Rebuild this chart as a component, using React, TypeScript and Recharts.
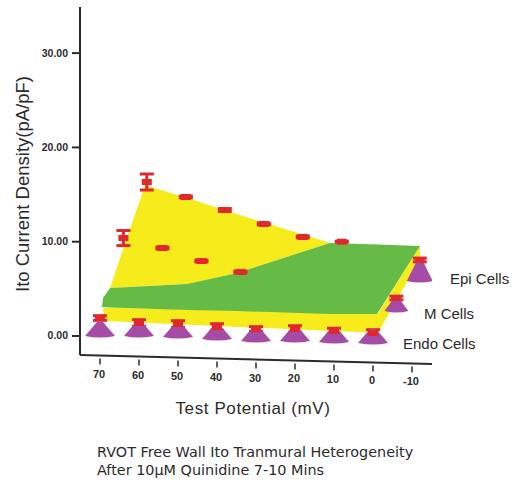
import { Area, ComposedChart, ErrorBar, ReferenceLine, Scatter, XAxis, YAxis } from 'recharts';

const potentials = [70, 60, 50, 40, 30, 20, 10, 0];
const xTicks = [70, 60, 50, 40, 30, 20, 10, 0, -10];
const yTicks = [0, 10, 20, 30];

// red markers, read per test potential (null = hidden behind the surface)
const endoMeans = [1.91, 1.38, 1.27, 0.95, 0.74, 0.74, 0.53, 0.32];
const endoErrors = [0.25, 0.35, 0.35, 0.35, 0.25, 0.35, 0.3, 0.35];
const midMeans = [10.39, 9.33, 7.95, 6.79, null, null, null, 4.03];
const midErrors = [0.8, 0.1, 0.1, 0.1, 0, 0, 0, 0.2];
const epiMeans = [16.33, 14.74, 13.36, 11.88, 10.5, 10.0, null, 8.06];
const epiErrors = [0.85, 0.1, 0.15, 0.1, 0.1, 0.05, 0, 0.2];

// cone feet
const endoConeBase = [-0.11, -0.11, -0.21, -0.42, -0.64, -0.64, -0.74, -0.85];
const midConePotential = [0];
const midConeBase = [2.55];
const epiConePotential = [0];
const epiConeBase = [5.73];

// depth shift of each row in the oblique view, in mV
const midDepth = 6;
const epiDepth = 12;

// surfaces as drawn: position on the x scale, upper and lower edge
const epiSurfaceX = [67.44, 58.46, 47.69, 34.87, 11.03];
const epiSurfaceTop = [5.09, 16.01, 14.63, 12.94, 9.86];
const epiSurfaceLow = [5.09, 5.3, 5.51, 6.68, 9.86];

const midSurfaceX = [69.49, 69.23, 67.44, 47.69, 34.87, 11.03, -1.03, -12.05];
const midSurfaceTop = [3.08, 4.03, 5.09, 5.51, 6.68, 9.86, 9.7, 9.54];
const midSurfaceLow = [3.08, 3.08, 3.03, 2.76, 2.65, 2.33, 2.33, 9.54];

const endoSurfaceX = [69.23, 68.72, -1.28, -12.05];
const endoSurfaceTop = [2.97, 3.0, 2.4, 9.54];
const endoSurfaceLow = [2.97, 1.59, 0.32, 8.17];

const WIDTH = 515;
const HEIGHT = 487;
const YELLOW = '#f6ec1c';
const GREEN = '#66bb46';
const RED = '#e0282e';
const PURPLE = '#a64ca6';
const INK = '#2b2b2b';
const AXIS_SLOPE = 9 / 352;

const zip = (xs: number[], ys: (number | null)[], errs?: number[]) =>
  xs
    .map((x, i) => ({ x, y: ys[i], err: errs ? errs[i] : 0 }))
    .filter((d) => d.y !== null);

const band = (xs: number[], top: number[], low: number[]) =>
  xs.map((x, i) => ({ x, range: [low[i], top[i]] }));

const shift = (depth: number) => potentials.map((p) => p - depth);

const Cap = (props: any) => (
  <rect x={props.cx - 5} y={props.cy - 3} width={10} height={6} fill={RED} />
);

const coneShape = (halfWidth: number, height: number) => (props: any) => {
  const { cx, cy } = props;
  const d = `M${cx - 3} ${cy - height} L${cx + 3} ${cy - height} L${cx + halfWidth} ${cy - 1} Q${cx} ${cy + 2} ${cx - halfWidth} ${cy - 1} Z`;
  return <path d={d} fill={PURPLE} />;
};

const XTick = (props: any) => {
  const { x, y, payload } = props;
  const drop = (x - 80) * AXIS_SLOPE;
  return (
    <g>
      <line x1={x} x2={x} y1={y + drop - 5} y2={y + drop + 1} stroke={INK} strokeWidth={1.5} />
      <text x={x - 1} y={y + drop + 14} textAnchor="middle" fontSize={11} fontWeight="bold" fontFamily="'Liberation Sans'" fill={INK}>
        {payload.value}
      </text>
    </g>
  );
};

const YTick = (props: any) => (
  <g>
    <line x1={72} x2={80} y1={props.y} y2={props.y} stroke={INK} strokeWidth={2} />
    <text x={68} y={props.y + 3.5} textAnchor="end" fontSize={10.5} fontWeight="bold" fontFamily="'Liberation Sans'" fill={INK}>
      {props.payload.value.toFixed(2)}
    </text>
  </g>
);

const redRow = (name: string, data: any[]) => (
  <Scatter name={name} data={data} dataKey="y" shape={Cap} isAnimationActive={false}>
    <ErrorBar dataKey="err" direction="y" width={7} stroke={RED} strokeWidth={3} isAnimationActive={false} />
  </Scatter>
);

export default function App() {
  return (
    <div style={{ position: 'absolute', left: 0, top: 0, width: WIDTH, height: HEIGHT, background: '#fff' }}>
      <ComposedChart
        width={WIDTH}
        height={HEIGHT}
        margin={{ top: 7, right: 83, bottom: 102, left: 0 }}
      >
        <XAxis
          type="number"
          dataKey="x"
          domain={[-15.13, 75.13]}
          reversed
          ticks={xTicks}
          interval={0}
          allowDataOverflow
          axisLine={false}
          tickLine={false}
          tick={XTick}
          height={30}
        />
        <YAxis
          type="number"
          domain={[-2.015, 34.89]}
          ticks={yTicks}
          interval={0}
          allowDataOverflow
          width={80}
          axisLine={{ stroke: INK, strokeWidth: 2 }}
          tickLine={false}
          tick={YTick}
        />
        <ReferenceLine
          segment={[{ x: 75.13, y: -2.015 }, { x: -15.13, y: -2.97 }]}
          stroke={INK}
          strokeWidth={2}
          ifOverflow="visible"
        />

        <Area data={band(epiSurfaceX, epiSurfaceTop, epiSurfaceLow)} dataKey="range" type="linear" stroke="none" fill={YELLOW} fillOpacity={1} dot={false} activeDot={false} isAnimationActive={false} />
        <Area data={band(endoSurfaceX, endoSurfaceTop, endoSurfaceLow)} dataKey="range" type="linear" stroke="none" fill={YELLOW} fillOpacity={1} dot={false} activeDot={false} isAnimationActive={false} />
        <Area data={band(midSurfaceX, midSurfaceTop, midSurfaceLow)} dataKey="range" type="linear" stroke="none" fill={GREEN} fillOpacity={1} dot={false} activeDot={false} isAnimationActive={false} />

        <Scatter name="Endo cones" data={zip(potentials, endoConeBase)} dataKey="y" shape={coneShape(15, 15)} isAnimationActive={false} />
        <Scatter name="M cone" data={zip(midConePotential.map((p) => p - midDepth), midConeBase)} dataKey="y" shape={coneShape(12, 13)} isAnimationActive={false} />
        <Scatter name="Epi cone" data={zip(epiConePotential.map((p) => p - epiDepth), epiConeBase)} dataKey="y" shape={coneShape(13, 21)} isAnimationActive={false} />
        {redRow('Endo Cells', zip(potentials, endoMeans, endoErrors))}
        {redRow('M Cells', zip(shift(midDepth), midMeans, midErrors))}
        {redRow('Epi Cells', zip(shift(epiDepth), epiMeans, epiErrors))}

        <text x={0} y={0} transform="translate(29 184) rotate(-90)" textAnchor="middle" fontSize={18.5} fontFamily="'Liberation Sans'" fill={INK}>
          Ito Current Density(pA/pF)
        </text>
        <text x={253} y={414} textAnchor="middle" fontSize={17} letterSpacing={0.6} fontFamily="'Liberation Sans'" fill={INK}>
          Test Potential (mV)
        </text>
        <text x={450} y={284} fontSize={15} fontFamily="'Liberation Sans'" fill={INK}>Epi Cells</text>
        <text x={424} y={319} fontSize={15} fontFamily="'Liberation Sans'" fill={INK}>M Cells</text>
        <text x={403} y={349} fontSize={15} fontFamily="'Liberation Sans'" fill={INK}>Endo Cells</text>
        <text x={97} y={457} fontSize={14.4} fontFamily="'DejaVu Sans'" fill={INK}>RVOT Free Wall Ito Tranmural Heterogeneity</text>
        <text x={97} y={475} fontSize={14.4} fontFamily="'DejaVu Sans'" fill={INK}>After 10µM Quinidine 7-10 Mins</text>
      </ComposedChart>
    </div>
  );
}
